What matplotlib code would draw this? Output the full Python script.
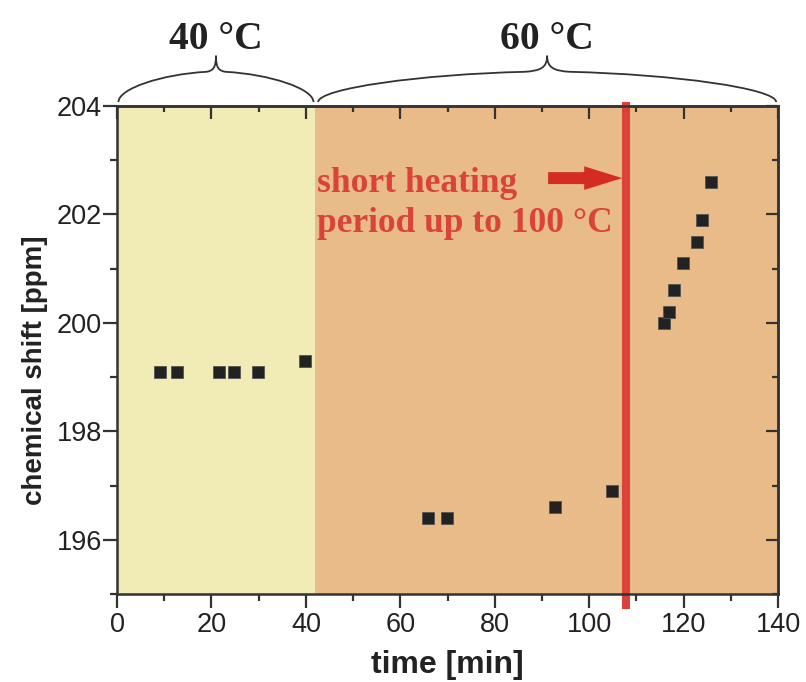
import matplotlib
matplotlib.use("Agg")
import matplotlib.pyplot as plt
from matplotlib.path import Path
from matplotlib.patches import PathPatch
from matplotlib.ticker import MultipleLocator
import matplotlib.transforms as mtransforms

# measured chemical shifts
time_40 = [9.2, 12.8, 21.5, 24.8, 29.8, 39.8]
shift_40 = [199.1, 199.1, 199.1, 199.1, 199.1, 199.3]
time_60 = [65.8, 69.9, 92.8, 104.9]
shift_60 = [196.4, 196.4, 196.6, 196.9]
time_after = [115.9, 116.9, 118.0, 119.9, 122.9, 123.9, 125.8]
shift_after = [200.0, 200.2, 200.6, 201.1, 201.5, 201.9, 202.6]

x_ticks = [0, 20, 40, 60, 80, 100, 120, 140]
y_ticks = [196, 198, 200, 202, 204]

phase_edge = 42.0      # switch from 40 °C to 60 °C
heating_time = 107.8   # short heating pulse
phase_labels = ["40 °C", "60 °C"]

yellow = "#F1EBB5"
orange = "#E9BB88"
red = "#D9433A"
spine_c = "#333333"

fig = plt.figure(figsize=(8.06, 6.82), dpi=100)
ax = fig.add_axes([0.1452, 0.129, 0.8201, 0.7156])
ax.set_xlim(0, 140)
ax.set_ylim(195, 204)

ax.axvspan(0, phase_edge, color=yellow, lw=0, zorder=0)
ax.axvspan(phase_edge, 140, color=orange, lw=0, zorder=0)

ax.axvline(heating_time, ymin=-0.022, ymax=1.0, color=red, lw=5.8,
           clip_on=False, zorder=2)

marker_kw = dict(ls="none", marker="s", ms=8.2, mfc="#222222",
                 mec="#555555", mew=0.6, zorder=3)
ax.plot(time_40, shift_40, **marker_kw)
ax.plot(time_60, shift_60, **marker_kw)
ax.plot(time_after, shift_after, **marker_kw)

ax.annotate("", xy=(107.0, 202.67), xytext=(91.3, 202.67),
            arrowprops=dict(arrowstyle="simple,head_length=1.37,head_width=0.85,tail_width=0.43",
                            fc="#D42B25", ec="none", mutation_scale=20,
                            shrinkA=0, shrinkB=0),
            zorder=4)
ax.text(42.4, 202.88, "short heating\nperiod up to 100 °C", color=red,
        fontfamily="Liberation Serif", fontweight="bold", fontsize=25.5,
        ha="left", va="top", linespacing=1.28, zorder=4)

# axes styling
for sp in ax.spines.values():
    sp.set_linewidth(1.8)
    sp.set_color(spine_c)
ax.set_xticks(x_ticks)
ax.set_yticks(y_ticks)
ax.xaxis.set_minor_locator(MultipleLocator(10))
ax.yaxis.set_minor_locator(MultipleLocator(1))
ax.tick_params(which="both", color=spine_c, width=1.6)
ax.tick_params(which="major", length=10)
ax.tick_params(which="minor", length=5)
ax.tick_params(axis="x", which="both", direction="out", top=False)
ax.tick_params(axis="y", which="both", direction="out", right=False)
ax.tick_params(axis="x", which="major", labelsize=19.5, labelcolor="#222222", pad=3)
ax.tick_params(axis="y", which="major", labelsize=19.5, labelcolor="#222222", pad=1)
for lab in ax.get_xticklabels() + ax.get_yticklabels():
    lab.set_fontfamily("Liberation Sans")

# inward ticks on top and right
ax_top = ax.secondary_xaxis("top")
ax_top.set_xticks(x_ticks)
ax_top.xaxis.set_minor_locator(MultipleLocator(10))
ax_top.tick_params(which="both", direction="in", labeltop=False, color=spine_c, width=1.6)
ax_top.tick_params(which="major", length=9)
ax_top.tick_params(which="minor", length=4)
ax_top.spines["top"].set_linewidth(1.8)
ax_top.spines["top"].set_color(spine_c)
ax_right = ax.secondary_yaxis("right")
ax_right.set_yticks(y_ticks)
ax_right.yaxis.set_minor_locator(MultipleLocator(1))
ax_right.tick_params(which="both", direction="in", labelright=False, color=spine_c, width=1.6)
ax_right.tick_params(which="major", length=9)
ax_right.tick_params(which="minor", length=4)
ax_right.spines["right"].set_linewidth(1.8)
ax_right.spines["right"].set_color(spine_c)

ax.set_xlabel("time [min]", fontfamily="Liberation Sans", fontweight="bold",
              fontsize=23, color="#222222", va="center")
ax.xaxis.set_label_coords(0.5, -0.146)
ax.set_ylabel("chemical shift [ppm]", fontfamily="Liberation Sans", fontweight="bold",
              fontsize=20, color="#222222")
ax.yaxis.set_label_coords(-0.105, 0.459)

# curly braces marking the temperature phases
blend = mtransforms.blended_transform_factory(ax.transData, ax.transAxes)


def brace(x0, x1, yb=1.008, ym=1.07, yp=1.103):
    xm = 0.5 * (x0 + x1)
    h = 0.5 * (x1 - x0)
    dy = ym - yb
    verts = [
        (x0, yb),
        (x0, yb + 0.45 * dy), (x0 + 0.45 * h, yb + 0.92 * dy), (xm - 0.1 * h, ym),
        (xm - 0.03 * h, ym + 0.002), (xm, ym + 0.008), (xm, yp),
        (xm, ym + 0.008), (xm + 0.03 * h, ym + 0.002), (xm + 0.1 * h, ym),
        (x1 - 0.45 * h, yb + 0.92 * dy), (x1, yb + 0.45 * dy), (x1, yb),
    ]
    codes = [Path.MOVETO] + [Path.CURVE4] * 12
    ax.add_patch(PathPatch(Path(verts, codes), fc="none", ec="#333333",
                           lw=1.3, transform=blend, clip_on=False))
    return xm


for (a, b), label in zip([(0.3, 41.6), (42.6, 139.6)], phase_labels):
    xm = brace(a, b)
    ax.text(xm, 1.136, label, transform=blend, ha="center", va="center",
            fontfamily="Liberation Serif", fontweight="bold", fontsize=28.5,
            color="#222222")

fig.savefig("out.png", dpi=100, facecolor="white")
